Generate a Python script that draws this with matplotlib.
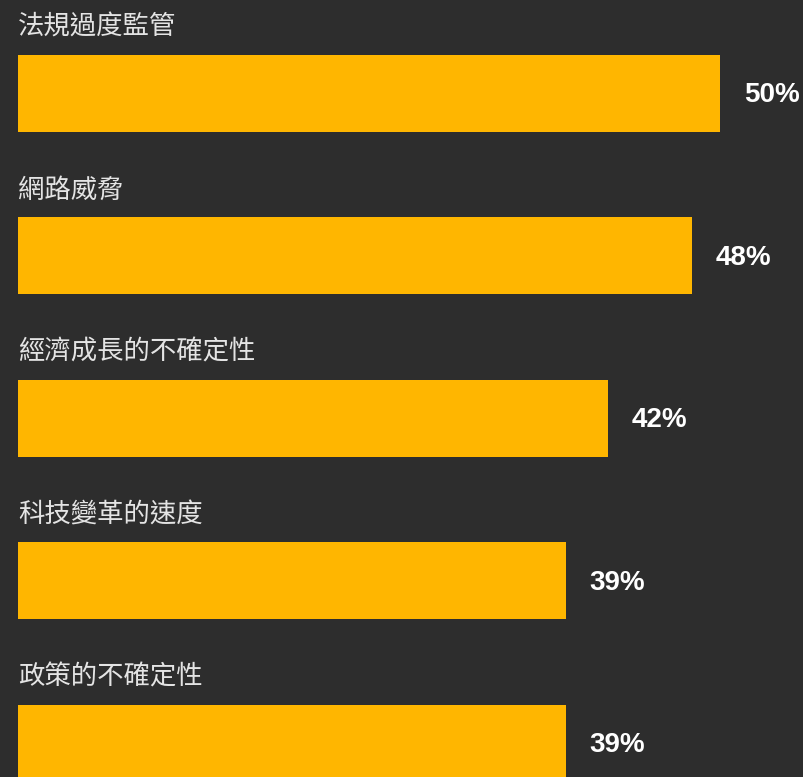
import matplotlib
matplotlib.use('Agg')
import matplotlib.pyplot as plt

# data
categories = ['法規過度監管', '網路威脅', '經濟成長的不確定性', '科技變革的速度', '政策的不確定性']
values = [50, 48, 42, 39, 39]

bg = '#2d2d2d'
bar_color = '#ffb600'

fig = plt.figure(figsize=(8.04, 7.77), dpi=100, facecolor=bg)
ax = fig.add_axes([0, 0, 1, 1])
ax.set_facecolor(bg)

px_per_unit = 702 / 50  # bar scale
row = 162.4            # row pitch in px
ax.set_xlim(-18 / px_per_unit, (804 - 18) / px_per_unit)
ax.set_ylim((777 - 93.5) / row, -93.5 / row)

ypos = range(len(categories))
ax.barh(ypos, values, height=77 / row, color=bar_color, left=0)

for i, (cat, v) in enumerate(zip(categories, values)):
    ax.text(0, i - 66 / row, cat, color='#e4e4e4', fontsize=19,
            family=['Noto Sans CJK TC', 'DejaVu Sans'], va='center', ha='left')
    ax.text(v + 24 / px_per_unit, i + 2 / row, f'{v}%', color='white', fontsize=20,
            fontweight='bold', family='Liberation Sans', va='center', ha='left')

ax.axis('off')
fig.savefig('out.png', dpi=100, facecolor=bg)
